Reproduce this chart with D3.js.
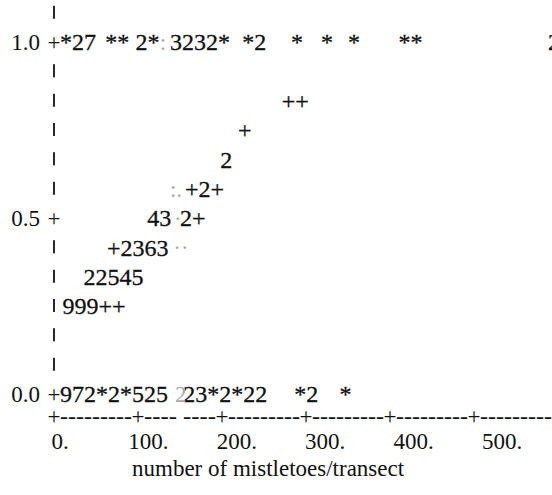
<!DOCTYPE html>
<html>
<head>
<meta charset="utf-8">
<script src="https://cdn.jsdelivr.net/npm/d3@7/dist/d3.min.js"></script>
<style>
body { margin: 0; background: #fff; }
text { font-family: "Liberation Serif", "Times New Roman", "DejaVu Serif", serif; font-size: 23px; fill: #111; }
text.mark { font-size: 24px; stroke: #111; stroke-width: 0.3px; }
</style>
</head>
<body>
<script>
// line printer plot
var xTicks = [0, 100, 200, 300, 400, 500];
var xTickLabels = ["0.", "100.", "200.", "300.", "400.", "500."];
var yTicks = [0, 0.5, 1];
var yTickLabels = ["0.0", "0.5", "1.0"];
var rowValues = [1.083, 1.0, 0.917, 0.833, 0.75, 0.667, 0.583, 0.5, 0.417, 0.333, 0.25, 0.167, 0.083, 0.0];

// runs of plot symbols: x where the run starts (mistletoes/transect), y = row
var markX = [7, 61, 97, 138, 224, 282, 318, 350, 410, 588,
             271, 219, 198, 156, 111, 150, 63, 35, 10,
             7, 154, 286, 340];
var markY = [1, 1, 1, 1, 1, 1, 1, 1, 1, 1,
             0.833, 0.75, 0.667, 0.583, 0.5, 0.5, 0.417, 0.333, 0.25,
             0, 0, 0, 0];
var markText = ["*27", "**", "2*", "3232*", "*2", "*", "*", "*", "**", "2",
                "++", "+", "2", "+2+", "43", "2+", "+2363", "22545", "999++",
                "972*2*525", "23*2*22", "*2", "*"];

// characters that came out faint in the copy
var faintX = [126, 138, 143, 142, 144];
var faintY = [1, 0.583, 0.5, 0.417, 0];
var faintText = [":", ":.", "\u00b7", "\u00b7\u00b7", "2"];

var W = 552, H = 495;

var x = d3.scaleLinear().domain([0, 500]).range([54, 474]);
var y = d3.scaleLinear().domain([0, 1]).range([394, 42]);
// tick labels are printed a little wider apart than the + marks
var xLab = d3.scaleLinear().domain([0, 500]).range([60, 502]);

var svg = d3.select("body").append("svg")
    .attr("width", W)
    .attr("height", H);

var isTick = d => yTicks.some(t => Math.abs(t - d) < 1e-6);

// vertical axis: + at labelled rows, | elsewhere
svg.selectAll("rect.bar")
    .data(rowValues.filter(d => !isTick(d)))
  .enter().append("rect")
    .attr("class", "bar")
    .attr("x", x(0) - 0.9)
    .attr("y", d => y(d) - 7)
    .attr("width", 1.8)
    .attr("height", 13)
    .style("fill", "#111");

svg.selectAll("text.yplus")
    .data(yTicks)
  .enter().append("text")
    .attr("class", "yplus")
    .attr("x", x(0))
    .attr("y", d => y(d))
    .attr("dy", "0.35em")
    .attr("text-anchor", "middle")
    .text("+");

svg.selectAll("text.ylab")
    .data(yTicks)
  .enter().append("text")
    .attr("class", "ylab")
    .attr("x", x(0) - 14)
    .attr("y", d => y(d))
    .attr("dy", "0.35em")
    .attr("text-anchor", "end")
    .text((d, i) => yTickLabels[i]);

// the plotted symbols
var marks = markX.map((v, i) => ({x: v, y: markY[i], s: markText[i]}));
svg.selectAll("text.mark")
    .data(marks)
  .enter().append("text")
    .attr("class", "mark")
    .attr("x", d => x(d.x))
    .attr("y", d => y(d.y))
    .attr("dy", "0.35em")
    .text(d => d.s);

var faint = faintX.map((v, i) => ({x: v, y: faintY[i], s: faintText[i]}));
svg.selectAll("text.faint")
    .data(faint)
  .enter().append("text")
    .attr("class", "faint")
    .attr("x", d => x(d.x))
    .attr("y", d => y(d.y))
    .attr("dy", "0.35em")
    .style("fill", "#aaa")
    .text(d => d.s);

// horizontal axis made of + and - like the printout
var axisY = y(0) + 22;
svg.selectAll("text.xplus")
    .data(xTicks)
  .enter().append("text")
    .attr("class", "xplus")
    .attr("x", d => x(d))
    .attr("y", axisY)
    .attr("dy", "0.35em")
    .attr("text-anchor", "middle")
    .text("+");

var gaps = xTicks.map((t, i) => [x(t) + 6, i < xTicks.length - 1 ? x(xTicks[i + 1]) - 6 : W]);
svg.selectAll("text.dash")
    .data(gaps)
  .enter().append("text")
    .attr("class", "dash")
    .attr("x", d => d[0])
    .attr("y", axisY)
    .attr("dy", "0.35em")
    .attr("textLength", d => d[1] - d[0])
    .attr("lengthAdjust", "spacingAndGlyphs")
    .text((d, i) => i == 1 ? "---- ----" : "---------");

svg.selectAll("text.xlab")
    .data(xTicks)
  .enter().append("text")
    .attr("class", "xlab")
    .attr("x", d => xLab(d))
    .attr("y", axisY + 25)
    .attr("dy", "0.35em")
    .attr("text-anchor", "middle")
    .text((d, i) => xTickLabels[i]);

svg.append("text")
    .attr("x", 132)
    .attr("y", axisY + 52)
    .attr("dy", "0.35em")
    .text("number of mistletoes/transect");
</script>
</body>
</html>
